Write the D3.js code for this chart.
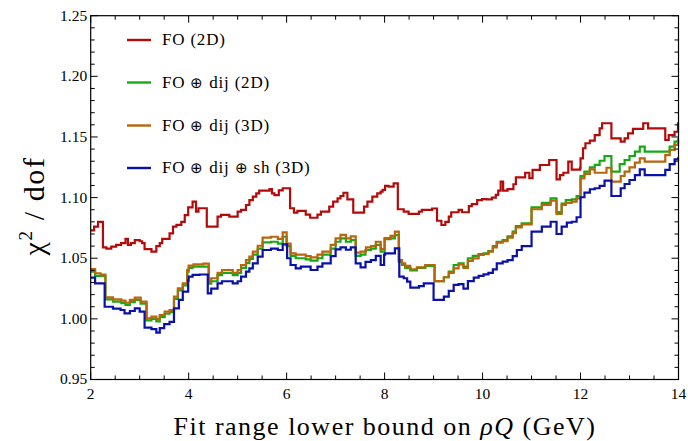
<!DOCTYPE html>
<html>
<head>
<meta charset="utf-8">
<script src="https://cdn.jsdelivr.net/npm/d3@7"></script>
<style>
  body { margin: 0; background: #fff; }
</style>
</head>
<body>
<svg id="chart"></svg>
<script>
// step data: [lower bound of step (GeV), chi2/dof], each step runs until the next one (last until 14)
const foTwoD = [
  [2.00,1.073],[2.07,1.076],[2.15,1.080],[2.25,1.059],[2.32,1.058],[2.42,1.0595],[2.52,1.061],[2.62,1.0625],
  [2.71,1.066],[2.76,1.061],[2.82,1.0625],[2.90,1.065],[3.00,1.064],[3.05,1.0625],[3.10,1.0575],[3.24,1.0555],
  [3.34,1.060],[3.41,1.0625],[3.46,1.066],[3.61,1.0705],[3.68,1.076],[3.75,1.0775],[3.85,1.080],[3.92,1.0855],
  [3.99,1.092],[4.08,1.0966],[4.15,1.0884],[4.20,1.0912],[4.37,1.076],[4.59,1.0843],[4.66,1.0857],[4.83,1.0843],
  [5.00,1.0884],[5.07,1.0898],[5.17,1.0939],[5.24,1.098],[5.31,1.1008],[5.38,1.1035],[5.44,1.1057],[5.65,1.107],
  [5.70,1.1035],[5.75,1.102],[5.84,1.106],[5.92,1.1077],[6.07,1.0912],[6.15,1.0876],[6.22,1.089],[6.39,1.086],
  [6.48,1.0834],[6.63,1.086],[6.70,1.0884],[6.87,1.0925],[6.95,1.0966],[7.04,1.0994],[7.10,1.1013],[7.16,1.104],
  [7.24,1.0985],[7.36,1.0876],[7.58,1.0925],[7.65,1.0966],[7.75,1.1008],[7.85,1.1035],[7.92,1.105],[7.96,1.1063],
  [8.01,1.1096],[8.08,1.109],[8.185,1.1118],[8.27,1.0904],[8.39,1.0885],[8.49,1.0865],[8.70,1.0885],[8.76,1.0898],
  [8.97,1.091],[9.07,1.0809],[9.16,1.0774],[9.24,1.080],[9.31,1.0843],[9.36,1.0879],[9.51,1.0898],[9.58,1.0879],
  [9.72,1.093],[9.78,1.0946],[9.89,1.098],[9.99,1.0988],[10.08,1.0985],[10.19,1.100],[10.27,1.1022],[10.32,1.1057],
  [10.37,1.1131],[10.42,1.1057],[10.51,1.107],[10.63,1.111],[10.68,1.1167],[10.87,1.1205],[10.955,1.116],[11.02,1.1228],
  [11.17,1.1269],[11.36,1.131],[11.51,1.115],[11.58,1.1186],[11.65,1.1205],[11.75,1.1296],[11.82,1.123],[11.99,1.1243],
  [12.00,1.1324],[12.05,1.1407],[12.10,1.1448],[12.19,1.147],[12.29,1.1516],[12.39,1.1571],[12.44,1.1613],[12.63,1.1489],
  [12.82,1.1461],[12.90,1.1489],[12.97,1.153],[13.07,1.1566],[13.28,1.1613],[13.38,1.1571],[13.73,1.1475],[13.80,1.1516],
  [13.92,1.1543],[13.99,1.1613]
];

const foDijTwoD = [
  [2.00,1.039],[2.09,1.0355],[2.30,1.016],[2.455,1.0143],[2.625,1.013],[2.71,1.0115],[2.80,1.0138],[2.90,1.0157],
  [3.02,1.0125],[3.14,0.9988],[3.24,1.000],[3.34,0.998],[3.41,1.0015],[3.51,1.0042],[3.61,1.0056],[3.70,1.0165],
  [3.78,1.0235],[3.88,1.0276],[3.97,1.039],[4.00,1.042],[4.08,1.043],[4.41,1.029],[4.46,1.031],[4.59,1.036],
  [4.68,1.038],[4.90,1.036],[5.00,1.038],[5.07,1.042],[5.17,1.046],[5.24,1.0495],[5.31,1.053],[5.41,1.058],
  [5.51,1.063],[5.68,1.0636],[5.82,1.062],[5.92,1.0677],[6.00,1.060],[6.08,1.052],[6.185,1.050],[6.39,1.049],
  [6.49,1.048],[6.63,1.050],[6.73,1.053],[6.90,1.058],[7.00,1.0636],[7.10,1.0664],[7.21,1.0636],[7.31,1.065],
  [7.41,1.052],[7.51,1.053],[7.61,1.0568],[7.72,1.058],[7.82,1.061],[7.92,1.0554],[8.00,1.0657],[8.12,1.0664],
  [8.21,1.069],[8.29,1.047],[8.355,1.0444],[8.42,1.042],[8.525,1.040],[8.66,1.042],[8.83,1.0437],[9.02,1.0312],
  [9.21,1.0343],[9.31,1.039],[9.41,1.0444],[9.51,1.0458],[9.61,1.043],[9.70,1.0499],[9.80,1.052],[9.92,1.0534],
  [10.02,1.054],[10.12,1.0558],[10.21,1.060],[10.29,1.0636],[10.41,1.065],[10.51,1.068],[10.615,1.0719],[10.68,1.0766],
  [10.80,1.0787],[11.00,1.092],[11.21,1.0957],[11.39,1.0994],[11.51,1.088],[11.615,1.095],[11.70,1.098],[11.82,1.0985],
  [11.92,1.1013],[12.00,1.1178],[12.08,1.1214],[12.19,1.125],[12.29,1.127],[12.39,1.1304],[12.49,1.1343],[12.63,1.1214],
  [12.80,1.1276],[12.90,1.131],[13.00,1.1343],[13.11,1.1379],[13.21,1.142],[13.31,1.1379],[13.82,1.142],[13.92,1.1461],
  [13.99,1.148]
];

const foDijThreeD = [
  [2.00,1.041],[2.09,1.0376],[2.20,1.0365],[2.30,1.0178],[2.455,1.0161],[2.625,1.015],[2.71,1.0133],[2.80,1.0156],
  [2.90,1.0175],[3.02,1.0142],[3.14,1.0005],[3.24,1.0018],[3.34,0.9998],[3.41,1.0032],[3.51,1.0059],[3.61,1.0073],
  [3.70,1.0183],[3.78,1.0252],[3.88,1.0293],[3.97,1.0403],[4.00,1.0439],[4.10,1.045],[4.30,1.0455],[4.41,1.0307],
  [4.46,1.0335],[4.59,1.038],[4.68,1.0403],[4.90,1.038],[5.00,1.0403],[5.07,1.0444],[5.17,1.0485],[5.24,1.0513],
  [5.31,1.0554],[5.41,1.0603],[5.51,1.067],[5.68,1.0677],[5.82,1.066],[5.92,1.0714],[6.00,1.062],[6.08,1.054],
  [6.185,1.053],[6.39,1.0517],[6.49,1.0507],[6.63,1.053],[6.73,1.0554],[6.90,1.061],[7.00,1.0664],[7.10,1.0692],
  [7.21,1.0664],[7.31,1.068],[7.41,1.0546],[7.51,1.0554],[7.62,1.059],[7.72,1.060],[7.82,1.0636],[7.92,1.0575],
  [8.00,1.0665],[8.12,1.0684],[8.21,1.0719],[8.29,1.0485],[8.355,1.0458],[8.42,1.0437],[8.525,1.0409],[8.66,1.0425],
  [8.83,1.0444],[9.02,1.0312],[9.21,1.0343],[9.31,1.038],[9.41,1.0416],[9.51,1.045],[9.61,1.042],[9.70,1.0477],
  [9.80,1.0499],[9.92,1.0527],[10.02,1.0535],[10.12,1.0554],[10.21,1.059],[10.29,1.0628],[10.41,1.064],[10.51,1.067],
  [10.615,1.0706],[10.68,1.0755],[10.80,1.078],[11.00,1.0904],[11.21,1.0939],[11.39,1.0975],[11.51,1.0865],[11.615,1.0939],
  [11.70,1.0957],[11.82,1.0966],[11.92,1.0994],[12.00,1.1159],[12.08,1.1195],[12.19,1.1233],[12.29,1.1205],[12.53,1.1246],
  [12.63,1.1131],[12.82,1.1178],[12.90,1.1214],[13.00,1.125],[13.11,1.1288],[13.21,1.1324],[13.31,1.1296],[13.73,1.1351],
  [13.82,1.1393],[13.92,1.1434],[13.99,1.1475]
];

const foDijShThreeD = [
  [2.00,1.034],[2.09,1.0293],[2.285,1.010],[2.455,1.0085],[2.61,1.0073],[2.69,1.0046],[2.80,1.0065],[2.90,1.0087],
  [3.00,1.006],[3.10,0.9927],[3.24,0.9915],[3.34,0.9886],[3.41,0.9923],[3.50,0.9957],[3.61,0.9976],[3.70,1.0087],
  [3.80,1.0156],[3.88,1.0224],[3.99,1.0315],[4.00,1.0348],[4.08,1.0362],[4.22,1.0366],[4.39,1.0211],[4.46,1.025],
  [4.59,1.0293],[4.68,1.031],[4.90,1.0293],[5.00,1.031],[5.07,1.0348],[5.17,1.0389],[5.24,1.0417],[5.31,1.0458],
  [5.41,1.0513],[5.51,1.0568],[5.68,1.058],[5.82,1.0568],[5.92,1.0615],[6.01,1.050],[6.08,1.0444],[6.185,1.0417],
  [6.29,1.043],[6.49,1.0403],[6.63,1.043],[6.73,1.0458],[6.90,1.0518],[7.00,1.0573],[7.10,1.059],[7.21,1.057],
  [7.31,1.059],[7.41,1.0458],[7.51,1.0425],[7.61,1.047],[7.72,1.0485],[7.82,1.052],[7.92,1.0444],[7.99,1.053],
  [8.01,1.054],[8.21,1.0582],[8.30,1.0348],[8.39,1.0335],[8.46,1.0307],[8.525,1.0257],[8.70,1.027],[8.80,1.0293],
  [9.00,1.0156],[9.21,1.0183],[9.31,1.023],[9.41,1.028],[9.51,1.0287],[9.61,1.025],[9.70,1.0312],[9.82,1.034],
  [9.92,1.0354],[10.02,1.0367],[10.12,1.038],[10.21,1.0408],[10.29,1.0458],[10.41,1.0472],[10.51,1.0485],[10.615,1.0518],
  [10.70,1.0568],[10.80,1.060],[11.00,1.0719],[11.21,1.076],[11.39,1.0801],[11.51,1.070],[11.615,1.076],[11.72,1.0793],
  [11.82,1.0801],[11.92,1.0838],[12.00,1.1003],[12.08,1.1041],[12.19,1.1069],[12.29,1.1077],[12.39,1.1096],[12.49,1.114],
  [12.63,1.1013],[12.82,1.1077],[12.90,1.1112],[13.00,1.1145],[13.11,1.1186],[13.21,1.1233],[13.31,1.1186],[13.73,1.1228],
  [13.82,1.1276],[13.92,1.1315],[13.99,1.1324]
];

const seriesNames = ["FO (2D)", "FO \u2295 dij (2D)", "FO \u2295 dij (3D)", "FO \u2295 dij \u2295 sh (3D)"];
const seriesColors = ["#b30a0a", "#14aa14", "#b8650c", "#0a10aa"];
const seriesData = [foTwoD, foDijTwoD, foDijThreeD, foDijShThreeD];

const xMajor = [2, 4, 6, 8, 10, 12, 14];
const yMajor = [0.95, 1.00, 1.05, 1.10, 1.15, 1.20, 1.25];
const xRange = [2, 14];
const yRange = [0.95, 1.25];

const serif = "'Liberation Serif', 'DejaVu Serif', 'Times New Roman', serif";

const width = 688;
const height = 441;
const margin = { top: 15.7, right: 9.5, bottom: 61.5, left: 90.7 };
const innerWidth = width - margin.left - margin.right;
const innerHeight = height - margin.top - margin.bottom;

const svg = d3.select("#chart")
  .attr("width", width)
  .attr("height", height)
  .attr("font-family", serif)
  .style("font-family", serif);

const g = svg.append("g")
  .attr("transform", `translate(${margin.left}, ${margin.top})`);

const xScale = d3.scaleLinear().domain(xRange).range([0, innerWidth]);
const yScale = d3.scaleLinear().domain(yRange).range([innerHeight, 0]);

// minor ticks every 0.5 on x, 0.01 on y
const xMinor = d3.range(xRange[0], xRange[1] + 0.001, 0.5);
const yMinor = d3.range(0, 31).map(i => +(yRange[0] + i * 0.01).toFixed(2));

const lineGen = d3.line()
  .x(d => xScale(d[0]))
  .y(d => yScale(d[1]))
  .curve(d3.curveStepAfter);

const plot = g.append("g");
seriesData.forEach((data, i) => {
  const pts = data.concat([[xRange[1], data[data.length - 1][1]]]);
  plot.append("path")
    .datum(pts)
    .attr("fill", "none")
    .attr("stroke", seriesColors[i])
    .attr("stroke-width", 2.2)
    .attr("d", lineGen);
});

// frame with inward ticks on all four sides
const majorLen = 7, minorLen = 4;
function isMajor(v, list) { return list.some(m => Math.abs(m - v) < 1e-6); }

const ticks = g.append("g").attr("stroke", "#000").attr("stroke-width", 1);
xMinor.forEach(v => {
  const len = isMajor(v, xMajor) ? majorLen : minorLen;
  const x = xScale(v);
  ticks.append("line").attr("x1", x).attr("x2", x).attr("y1", innerHeight).attr("y2", innerHeight - len);
  ticks.append("line").attr("x1", x).attr("x2", x).attr("y1", 0).attr("y2", len);
});
yMinor.forEach(v => {
  const len = isMajor(v, yMajor) ? majorLen : minorLen;
  const y = yScale(v);
  ticks.append("line").attr("x1", 0).attr("x2", len).attr("y1", y).attr("y2", y);
  ticks.append("line").attr("x1", innerWidth).attr("x2", innerWidth - len).attr("y1", y).attr("y2", y);
});

g.append("rect")
  .attr("width", innerWidth)
  .attr("height", innerHeight)
  .attr("fill", "none")
  .attr("stroke", "#000")
  .attr("stroke-width", 1.2);

// tick labels
g.append("g").selectAll("text")
  .data(xMajor)
  .join("text")
  .attr("x", d => xScale(d))
  .attr("y", innerHeight + 20)
  .attr("text-anchor", "middle")
  .attr("font-family", serif)
  .attr("font-size", 15.5)
  .text(d => d);

g.append("g").selectAll("text")
  .data(yMajor)
  .join("text")
  .attr("x", -3.5)
  .attr("y", d => yScale(d) + 5)
  .attr("text-anchor", "end")
  .attr("font-family", serif)
  .attr("font-size", 15.5)
  .text(d => d.toFixed(2));

// axis titles, spaced out a little to match the wider original typesetting
const xt = svg.append("text")
  .attr("x", 385)
  .attr("y", 435)
  .attr("text-anchor", "middle")
  .attr("font-family", serif)
  .attr("font-size", 26)
  .attr("letter-spacing", 1.5);
xt.append("tspan").text("Fit range lower bound on ");
xt.append("tspan").attr("font-style", "italic").text("\u03c1Q");
xt.append("tspan").text(" (GeV)");

const yt = svg.append("text")
  .attr("transform", "translate(44, 206) rotate(-90)")
  .attr("text-anchor", "middle")
  .attr("font-family", serif)
  .attr("font-size", 30)
  .attr("letter-spacing", 1.6);
yt.append("tspan").text("\u03c7");
yt.append("tspan").attr("dy", -12).attr("font-size", 19).text("2");
yt.append("tspan").attr("dy", 12).text(" / dof");

// legend
const legendY = [40, 82.5, 125.5, 168];
const legend = svg.append("g");
seriesNames.forEach((name, i) => {
  legend.append("line")
    .attr("x1", 127).attr("x2", 151)
    .attr("y1", legendY[i]).attr("y2", legendY[i])
    .attr("stroke", seriesColors[i])
    .attr("stroke-width", 2.4);
  const t = legend.append("text")
    .attr("x", 162)
    .attr("y", legendY[i] + 5)
    .attr("font-family", serif)
    .attr("font-size", 17)
    .attr("letter-spacing", 0.8);
  name.split(/(\u2295)/).forEach(part => {
    const s = t.append("tspan").text(part);
    if (part === "\u2295") s.attr("font-family", "'DejaVu Sans'").attr("font-weight", 200).attr("font-size", 15);
  });
});
</script>
</body>
</html>
